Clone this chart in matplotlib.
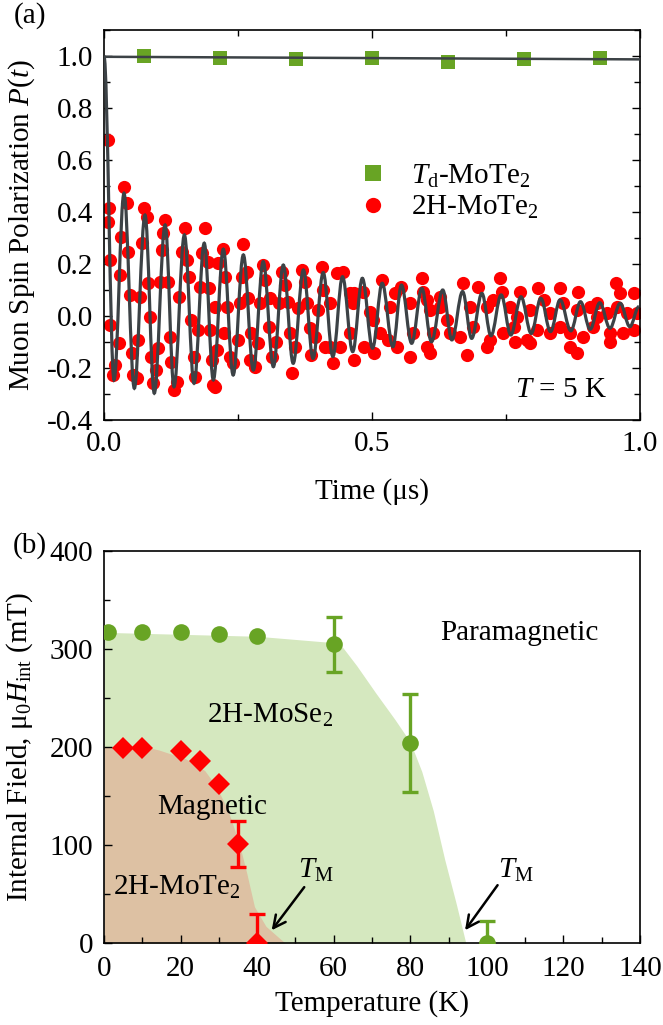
import numpy as np
import matplotlib
matplotlib.use('Agg')
import matplotlib.pyplot as plt
from matplotlib.path import Path
from matplotlib.patches import PathPatch
from matplotlib.lines import Line2D
from matplotlib.ticker import MultipleLocator

plt.rcParams['font.family'] = ['Liberation Serif', 'DejaVu Serif']
plt.rcParams['mathtext.fontset'] = 'custom'
plt.rcParams['mathtext.rm'] = 'Liberation Serif'
plt.rcParams['mathtext.it'] = 'Liberation Serif:italic'
plt.rcParams['mathtext.bf'] = 'Liberation Serif:bold'
FS = 21

# ---------------- panel (a) data ----------------
td_t = [0.075, 0.217, 0.358, 0.500, 0.642, 0.783, 0.925]
td_p = [1.000, 0.994, 0.990, 0.994, 0.977, 0.987, 0.992]
td_fit_t = [0.0, 1.0]
td_fit_p = [0.997, 0.987]

h2_t = [0.007, 0.008, 0.010, 0.011, 0.012, 0.0174, 0.0205, 0.0286, 0.0299, 0.031,
        0.0373, 0.0423, 0.0454, 0.0485, 0.0516, 0.0547, 0.061, 0.064, 0.0672, 0.0703,
        0.0746, 0.0796, 0.0827, 0.0858, 0.0871, 0.092, 0.097, 0.1014, 0.1045, 0.1076,
        0.1107, 0.1138, 0.120, 0.1231, 0.1245, 0.1306, 0.1356, 0.1405, 0.1449, 0.1511,
        0.1555, 0.1592, 0.1617, 0.1679, 0.1698, 0.176, 0.1791, 0.1822, 0.1884, 0.1947,
        0.1965, 0.1978, 0.2009, 0.204,
        0.207, 0.2075, 0.210, 0.213, 0.2226, 0.2230, 0.226, 0.229, 0.235, 0.241,
        0.250, 0.254, 0.257, 0.260, 0.266, 0.269, 0.272, 0.275, 0.282, 0.288,
        0.291, 0.296, 0.300, 0.308, 0.310, 0.313, 0.320, 0.326, 0.332, 0.338,
        0.344, 0.347, 0.350, 0.356, 0.362, 0.369, 0.375, 0.378, 0.384, 0.387,
        0.394, 0.400, 0.406, 0.409, 0.412,
        0.4216, 0.4220, 0.428, 0.434, 0.440, 0.4465, 0.459, 0.4595, 0.465, 0.4655,
        0.4660, 0.484, 0.4845, 0.496, 0.5025, 0.5030, 0.515, 0.518, 0.5305, 0.534,
        0.543, 0.546, 0.555, 0.571, 0.5715, 0.577, 0.593, 0.596, 0.602, 0.6025,
        0.608, 0.6085, 0.614, 0.627, 0.6275, 0.639, 0.646, 0.664, 0.670, 0.677,
        0.683, 0.689, 0.698, 0.714, 0.7145, 0.720, 0.726, 0.739, 0.742, 0.745,
        0.757, 0.764, 0.767, 0.770, 0.776, 0.789, 0.795, 0.7955, 0.807, 0.810,
        0.820, 0.832, 0.8325, 0.851, 0.8515, 0.857, 0.869, 0.8695, 0.882, 0.8825,
        0.885, 0.894, 0.907, 0.913, 0.919, 0.9195, 0.938, 0.944, 0.9445, 0.956,
        0.9565, 0.963, 0.969, 0.975, 0.988, 0.9885, 0.994]
h2_p = [0.677, 0.363, 0.414, 0.215, -0.035, -0.227, -0.188, -0.105, 0.158, 0.305,
        0.497, 0.433, 0.247, 0.081, -0.144, -0.227, -0.240, -0.092, 0.074, 0.280,
        0.414, 0.382, 0.126, -0.003, -0.156, -0.259, -0.208, -0.124, 0.132, 0.254,
        0.318, 0.369, 0.132, -0.080, -0.176, -0.285, -0.253, 0.074, 0.247, 0.337,
        0.215, 0.151, -0.015, -0.156, -0.233, -0.054, 0.113, 0.241, 0.337, 0.209,
        0.106, -0.054, -0.169, -0.265,
        -0.272, 0.036, -0.131, 0.203, 0.257, -0.067, 0.151, 0.036, -0.156, -0.182,
        -0.092, 0.049, 0.151, 0.277, 0.170, 0.068, -0.169, -0.067, -0.195, -0.105,
        0.049, 0.196, 0.138, -0.041, 0.068, -0.156, -0.099, 0.049, 0.170, 0.119,
        0.055, -0.067, -0.220, -0.118, 0.030, 0.177, 0.132, 0.049, -0.047, -0.150,
        -0.080, 0.023, 0.190, 0.100, -0.118,
        0.049, -0.118, -0.182, 0.164, -0.118, 0.170, 0.087, -0.067, 0.049, -0.169,
        0.087, 0.094, -0.118, 0.017, -0.015, -0.144, -0.067, 0.138, -0.092, 0.036,
        0.087, -0.118, 0.113, 0.049, -0.156, -0.067, 0.145, 0.094, 0.062, -0.118,
        0.023, -0.144, -0.067, 0.074, 0.036, -0.015, -0.067, -0.079, 0.126, -0.150,
        0.036, -0.041, 0.113, 0.036, -0.118, -0.092, 0.062, 0.145, 0.094, -0.067,
        0.036, -0.041, -0.099, -0.003, 0.094, -0.092, 0.023, -0.105, -0.054, 0.106,
        0.062, 0.010, -0.067, 0.106, -0.041, 0.049, -0.067, -0.118, 0.023, -0.144,
        0.094, -0.079, 0.036, -0.041, 0.049, -0.003, 0.010, -0.067, -0.099, 0.126,
        0.036, 0.087, -0.067, 0.010, 0.087, -0.054, 0.010]

# extrema of the fitted curve (alternating peak / trough)
fit_t = [0.0, 0.0187, 0.0373, 0.0566, 0.0765, 0.0938, 0.114, 0.1306, 0.150, 0.168,
         0.187, 0.204, 0.2226, 0.241, 0.260, 0.2786, 0.297, 0.316, 0.3345, 0.353,
         0.372, 0.390, 0.409, 0.427, 0.445, 0.464, 0.482, 0.501, 0.519, 0.539,
         0.555, 0.574, 0.593, 0.611, 0.632, 0.649, 0.669, 0.686, 0.705, 0.722,
         0.741, 0.759, 0.778, 0.797, 0.815, 0.833, 0.851, 0.871, 0.889, 0.907,
         0.925, 0.944, 0.963, 0.981, 0.998]
fit_p = [1.00, -0.246, 0.472, -0.278, 0.388, -0.297, 0.350, -0.272, 0.312, -0.259,
         0.280, -0.246, 0.257, -0.227, 0.235, -0.208, 0.209, -0.195, 0.196, -0.182,
         0.177, -0.163, 0.167, -0.156, 0.151, -0.137, 0.145, -0.124, 0.126, -0.118,
         0.119, -0.105, 0.106, -0.099, 0.100, -0.092, 0.094, -0.086, 0.087, -0.076,
         0.081, -0.073, 0.074, -0.067, 0.068, -0.060, 0.062, -0.057, 0.055, -0.051,
         0.051, -0.047, 0.049, -0.041, 0.036]

# ---------------- panel (b) data ----------------
se_T = [1, 10, 20, 30, 40, 60, 80, 100]
se_H = [317, 317, 317, 315, 313, 305, 204, 0]
se_err = [0, 0, 0, 0, 0, 28, 50, 22]
te_T = [5, 10, 20, 25, 30, 35, 40]
te_H = [199, 199, 196, 186, 162, 101, 0]
te_err = [0, 0, 0, 0, 0, 23, 30]

se_phase_T = [0, 40, 61.5, 66, 71, 76, 80, 83, 86, 89, 92, 94.5]
se_phase_H = [317, 313, 306, 283, 255, 228, 205, 175, 135, 85, 40, 0]
te_phase_T = [0, 12, 14.3, 21.3, 26.3, 29.3, 32.3, 35.3, 37.3, 39.3, 42.3, 45.8, 47.3]
te_phase_H = [200, 199, 197, 188, 176, 160, 136, 102, 71, 37, 17, 5, 0]

GREEN = '#68a424'
RED = '#ff0000'
LINE = '#3c4246'

W, H = 663, 1025
fig = plt.figure(figsize=(W / 100, H / 100), dpi=100)
ax1 = fig.add_axes([104 / W, 1 - 420 / H, 536 / W, 390 / H])
ax2 = fig.add_axes([104 / W, 1 - 943 / H, 536 / W, 392 / H])

for ax in (ax1, ax2):
    for s in ax.spines.values():
        s.set_linewidth(1.2)

# ---- (a)
ax1.errorbar(h2_t, h2_p, yerr=0.022, fmt='none', ecolor=RED,
             elinewidth=1.2, capsize=0, zorder=2)
ax1.plot(h2_t, h2_p, 'o', color=RED, ms=9.5, mew=0, zorder=2)
verts = [(fit_t[0], fit_p[0])]
codes = [Path.MOVETO]
k = 0.3634
for i in range(len(fit_t) - 1):
    t0, p0, t1, p1 = fit_t[i], fit_p[i], fit_t[i + 1], fit_p[i + 1]
    d = t1 - t0
    verts += [(t0 + k * d, p0), (t1 - k * d, p1), (t1, p1)]
    codes += [Path.CURVE4] * 3
ax1.add_patch(PathPatch(Path(verts, codes), fill=False, edgecolor=LINE, lw=2.3, zorder=3))

ax1.errorbar(td_t, td_p, yerr=0.014, fmt='none', ecolor=GREEN,
             elinewidth=1.2, capsize=0, zorder=2)
ax1.plot(td_t, td_p, 's', color=GREEN, ms=10, mew=0, zorder=2)
ax1.plot(td_fit_t, td_fit_p, color=LINE, lw=1.8, zorder=3)

ax1.set_xlim(0, 1.0)
ax1.set_ylim(-0.4, 1.1)
ax1.set_xticks([0.0, 0.5, 1.0])
ax1.set_xticklabels(['0.0', '0.5', '1.0'])
ax1.xaxis.set_minor_locator(MultipleLocator(0.25))
ax1.set_yticks([-0.4, -0.2, 0.0, 0.2, 0.4, 0.6, 0.8, 1.0])
ax1.set_yticklabels(['-0.4', '-0.2', '0.0', '0.2', '0.4', '0.6', '0.8', '1.0'])
ax1.yaxis.set_minor_locator(MultipleLocator(0.1))
ax1.tick_params(which='both', direction='in', top=True, right=True, width=1.0,
                labelsize=FS)
ax1.tick_params(which='major', length=6)
ax1.tick_params(which='minor', length=4)
ax1.tick_params(axis='x', pad=8)
ax1.tick_params(axis='y', pad=8)
ax1.set_xlabel('Time (μs)', fontsize=FS)
ax1.set_ylabel('Muon Spin Polarization $P(t)$', fontsize=FS)
ax1.xaxis.set_label_coords(0.5, -0.15)
ax1.yaxis.set_label_coords(-0.125, 0.5)

handles = [Line2D([], [], ls='none', marker='s', color=GREEN, ms=11, mew=0),
           Line2D([], [], ls='none', marker='o', color=RED, ms=11, mew=0)]
ax1.legend(handles, ['$T_\\mathrm{d}$-MoTe$_2$', '2H-MoTe$_2$'], loc='upper left',
           bbox_to_anchor=(0.474, 0.66), frameon=False, fontsize=FS,
           handlelength=1.0, handletextpad=0.8, labelspacing=0.15,
           borderpad=0, borderaxespad=0)
ax1.text(0.853, 0.077, '$T$ = 5 K', transform=ax1.transAxes, fontsize=FS,
         ha='center', va='center')

# ---- (b)
ax2.fill_between(se_phase_T, se_phase_H, 0, color='#d5e8bf', lw=0, zorder=0)
ax2.fill_between(te_phase_T, te_phase_H, 0, color='#ddc1a3', lw=0, zorder=0.5)
se_mask = [e > 0 for e in se_err]
te_mask = [e > 0 for e in te_err]
ax2.errorbar([x for x, m in zip(se_T, se_mask) if m],
             [y for y, m in zip(se_H, se_mask) if m],
             yerr=[e for e, m in zip(se_err, se_mask) if m], fmt='none',
             ecolor=GREEN, elinewidth=2.4, capsize=5.5, capthick=2.4, zorder=3)
ax2.errorbar([x for x, m in zip(te_T, te_mask) if m],
             [y for y, m in zip(te_H, te_mask) if m],
             yerr=[e for e, m in zip(te_err, te_mask) if m], fmt='none',
             ecolor=RED, elinewidth=2.4, capsize=5.5, capthick=2.4, zorder=3)
ax2.plot(se_T, se_H, 'o', color=GREEN, ms=12, mew=0, zorder=4)
ax2.plot(te_T, te_H, 'D', color=RED, ms=11, mew=0, zorder=4)

ax2.set_xlim(0, 140)
ax2.set_ylim(0, 400)
ax2.xaxis.set_major_locator(MultipleLocator(20))
ax2.xaxis.set_minor_locator(MultipleLocator(10))
ax2.yaxis.set_major_locator(MultipleLocator(100))
ax2.yaxis.set_minor_locator(MultipleLocator(50))
ax2.tick_params(which='both', direction='in', width=1.0, labelsize=FS)
ax2.tick_params(which='major', length=6)
ax2.tick_params(which='minor', length=4)
ax2.tick_params(axis='x', pad=9)
ax2.tick_params(axis='y', pad=8)
ax2.set_xlabel('Temperature (K)', fontsize=FS)
ax2.set_ylabel('Internal Field, μ$_0$$H_\\mathrm{int}$ (mT)', fontsize=FS)
ax2.xaxis.set_label_coords(0.5, -0.12)
ax2.yaxis.set_label_coords(-0.129, 0.5)

ax2.text(87.8, 316, 'Paramagnetic', fontsize=FS, ha='left', va='center')
ax2.text(26.8, 232, '2H-MoSe$_2$', fontsize=FS, ha='left', va='center')
ax2.text(28.3, 139, 'Magnetic', fontsize=FS, ha='center', va='center')
ax2.text(2.3, 57, '2H-MoTe$_2$', fontsize=FS, ha='left', va='center')
ax2.text(50.8, 74, '$T_\\mathrm{M}$', fontsize=FS, ha='left', va='center')
ax2.text(102.8, 74, '$T_\\mathrm{M}$', fontsize=FS, ha='left', va='center')
arrow = dict(arrowstyle='->', color='black', lw=1.8, mutation_scale=22,
             shrinkA=0, shrinkB=0)
ax2.annotate('', xy=(43.8, 13), xytext=(52.3, 57), arrowprops=arrow)
ax2.annotate('', xy=(94.3, 13), xytext=(102.8, 59), arrowprops=arrow)

fig.text(30 / W, 1 - 16 / H, '(a)', fontsize=FS, ha='center', va='center')
fig.text(30 / W, 1 - 546 / H, '(b)', fontsize=FS, ha='center', va='center')

fig.savefig('out.png', dpi=100)
